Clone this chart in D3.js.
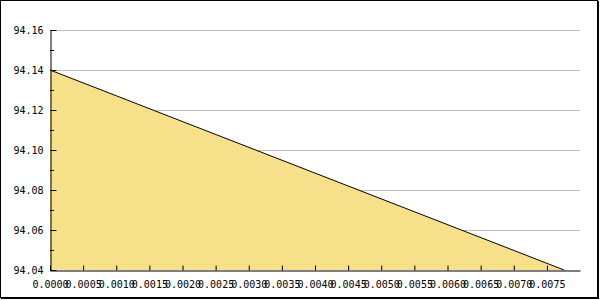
<!DOCTYPE html>
<html>
<head>
    <script src="https://d3js.org/d3.v7.min.js"></script>
    <style>
        body { margin: 0; background: #fff; }
        text { font-family: "DejaVu Sans Mono", monospace; font-size: 10px; fill: #000; }
    </style>
</head>
<body>
    <div id="chart"></div>
    <script>
        // data
        var xs = [0, 0.00776];
        var ys = [94.14, 94.04];
        var xTicks = [0, 0.0005, 0.001, 0.0015, 0.002, 0.0025, 0.003, 0.0035, 0.004, 0.0045, 0.005, 0.0055, 0.006, 0.0065, 0.007, 0.0075];
        var yTicks = [94.04, 94.06, 94.08, 94.10, 94.12, 94.14, 94.16];
        var yMinor = [94.05, 94.07, 94.09, 94.11, 94.13, 94.15];

        var width = 600, height = 300;
        var plotLeft = 50, plotRight = 580, plotTop = 30, plotBottom = 270;

        var svg = d3.select("#chart").append("svg")
            .attr("width", width)
            .attr("height", height);

        // frame
        svg.append("rect")
            .attr("x", 0.5).attr("y", 0.5)
            .attr("width", 597).attr("height", 297)
            .attr("fill", "none").attr("stroke", "#000");
        svg.append("path")
            .attr("d", "M598.5,1V299M1,298.5H599")
            .attr("stroke", "#000").attr("fill", "none");

        var x = d3.scaleLinear().domain([0, 0.008]).range([plotLeft, plotRight]);
        var y = d3.scaleLinear().domain([94.04, 94.16]).range([plotBottom, plotTop]);

        // grid
        svg.append("g").selectAll("line")
            .data(yTicks.slice(1))
            .enter().append("line")
            .attr("x1", plotLeft).attr("x2", plotRight)
            .attr("y1", function(d) { return Math.round(y(d)) + 0.5; })
            .attr("y2", function(d) { return Math.round(y(d)) + 0.5; })
            .attr("stroke", "#c0c0c0");

        var pts = xs.map(function(d, i) { return [d, ys[i]]; });

        var area = d3.area()
            .x(function(d) { return x(d[0]); })
            .y0(y(94.04))
            .y1(function(d) { return y(d[1]); });

        var line = d3.line()
            .x(function(d) { return x(d[0]); })
            .y(function(d) { return y(d[1]); });

        svg.append("path").datum(pts)
            .attr("d", area)
            .attr("fill", "#f7e08a");

        svg.append("path").datum(pts)
            .attr("d", line)
            .attr("fill", "none")
            .attr("stroke", "#000")
            .attr("stroke-width", 1);

        function styleAxis(g) {
            g.attr("font-family", null).attr("font-size", null);
            g.select(".domain").attr("stroke", "#000");
            g.selectAll("line").attr("stroke", "#000");
        }

        // axes with inward ticks
        var xAxis = d3.axisBottom(x).tickValues(xTicks).tickSizeInner(-5).tickSizeOuter(0)
            .tickFormat(d3.format(".4f")).tickPadding(10);
        svg.append("g")
            .attr("transform", "translate(0," + (plotBottom + 0.5) + ")")
            .call(xAxis)
            .call(styleAxis);

        var yAxis = d3.axisLeft(y).tickValues(yTicks).tickSizeInner(-6).tickSizeOuter(0)
            .tickFormat(d3.format(".2f")).tickPadding(7);
        svg.append("g")
            .attr("transform", "translate(" + (plotLeft + 0.5) + ",0)")
            .call(yAxis)
            .call(styleAxis);

        svg.append("g").selectAll("line")
            .data(yMinor)
            .enter().append("line")
            .attr("x1", plotLeft).attr("x2", plotLeft + 4)
            .attr("y1", function(d) { return Math.round(y(d)) + 0.5; })
            .attr("y2", function(d) { return Math.round(y(d)) + 0.5; })
            .attr("stroke", "#000");
    </script>
</body>
</html>
